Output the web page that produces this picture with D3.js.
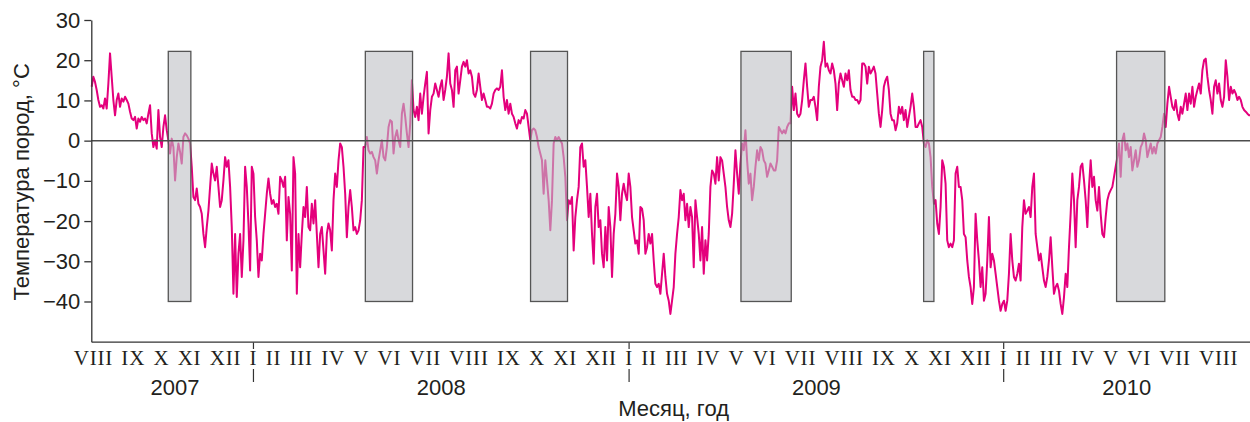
<!DOCTYPE html>
<html><head><meta charset="utf-8">
<script src="https://cdn.jsdelivr.net/npm/d3@7"></script>
<style>body{margin:0;background:#fff}svg{display:block}</style>
</head><body><svg id="chart" width="1250" height="422"></svg>
<script>
// ---- data ----
const seriesStart = "2007-07-27T09:00:00Z";
const stepHours = 39;
const temperature = [
13.4,15.9,14.6,12.6,10.1,8.4,8.8,8.0,10.5,8.0,
14.2,21.7,15.9,10.1,6.3,10.1,11.7,8.4,10.5,9.7,
10.9,10.1,9.2,7.2,5.5,5.1,5.9,3.0,5.5,4.7,
5.9,5.1,5.5,4.3,6.7,8.8,1.8,-1.6,0.1,-2.0,
7.6,0.9,-1.6,3.4,6.3,2.6,0.1,-3.2,0.5,-1.6,
-9.9,-4.1,-0.7,-2.8,-5.7,0.9,1.8,1.3,0.5,-0.7,
-6.5,-14.0,-14.8,-11.9,-15.7,-16.5,-18.2,-23.2,-26.5,-21.5,
-17.4,-11.5,-5.7,-8.2,-9.9,-6.5,-11.5,-16.5,-14.8,-9.9,
-4.1,-6.5,-4.9,-11.5,-21.5,-38.1,-23.2,-38.9,-28.1,-23.2,
-33.9,-24.8,-6.5,-11.5,-20.6,-32.3,-6.5,-8.2,-19.0,-24.8,
-33.9,-28.1,-29.8,-23.2,-18.2,-13.2,-9.4,-13.2,-15.7,-14.8,
-16.5,-15.7,-18.2,-9.0,-9.9,-11.5,-9.0,-24.8,-14.0,-18.2,
-32.3,-4.1,-8.2,-38.1,-23.2,-31.5,-23.2,-16.5,-19.0,-11.5,
-21.5,-22.3,-15.7,-20.6,-14.8,-23.2,-31.5,-23.2,-21.5,-27.3,
-33.1,-23.2,-20.6,-22.3,-27.3,-14.8,-8.2,-11.5,-4.9,-0.7,
-1.6,-6.5,-13.2,-24.0,-16.5,-12.3,-16.5,-22.3,-21.5,-23.2,
-22.3,-19.8,-14.8,-1.6,
-1.6,0.9,-2.4,-3.2,-2.8,-4.1,-4.9,-8.2,-4.9,-2.4,
0.1,-4.1,-4.9,-1.6,3.4,5.1,4.7,-3.2,0.9,2.6,
0.1,-1.6,6.7,9.2,5.9,1.8,-1.6,4.3,15.0,7.6,
5.9,8.4,5.1,11.7,6.7,10.9,14.2,17.1,1.8,7.6,
10.9,11.7,14.2,12.6,10.9,13.4,15.0,10.1,12.6,15.9,
21.7,14.2,12.6,8.4,17.5,18.4,11.7,15.0,18.4,19.6,
18.4,20.0,16.7,17.5,15.9,11.7,10.9,12.6,16.7,13.4,
10.1,11.7,10.1,8.4,8.4,8.0,9.2,11.7,12.6,13.0,
12.6,13.4,17.5,10.9,7.6,10.1,6.7,9.2,6.7,5.9,
4.3,3.0,5.1,4.3,5.9,5.5,7.6,6.7,3.4,0.1,
2.6,3.0,2.6,0.9,-1.6,-3.2,-4.9,-13.2,-4.9,-9.9,
-14.8,-22.3,-14.8,-0.7,0.9,0.1,0.9,0.1,-0.7,-4.1,
-9.0,-19.8,-14.8,-15.7,-14.0,-27.3,-19.0,-14.8,-11.5,-1.6,
-0.7,-6.5,-4.9,-11.5,-19.0,-13.2,-23.2,-30.6,-16.5,-13.2,
-21.5,-19.8,-28.1,-31.5,-21.5,-29.8,-16.5,-21.5,-33.9,-23.2,
-18.2,-8.2,-11.5,-19.8,-13.2,-10.7,-13.2,-14.8,-8.2,-11.5,
-19.0,-22.3,-25.6,-24.8,-28.1,-16.5,-16.9,
-19.8,-28.1,-26.5,-23.2,-25.6,-23.2,-29.8,-35.6,-36.4,-35.6,
-38.1,-33.1,-28.1,-33.9,-38.1,-39.8,-43.1,-39.8,-36.4,-28.1,
-23.2,-19.0,-12.3,-14.8,-13.2,-19.8,-15.7,-21.5,-16.5,-19.0,
-31.5,-14.8,-19.0,-23.2,-29.8,-21.5,-33.1,-24.8,-29.8,-23.2,
-11.5,-7.4,-8.2,-10.7,-4.1,-9.9,-4.1,-4.9,-8.2,-11.5,
-16.5,-19.8,-21.5,-18.2,-10.7,-2.4,-8.2,-13.2,-5.7,-0.7,
-2.4,2.6,-4.9,-10.7,-8.2,-14.8,-11.5,-6.5,-2.4,-4.9,
-1.6,-2.4,-4.9,-5.7,-9.0,-7.4,-5.7,-6.5,-7.4,-7.4,
-4.9,3.4,2.6,1.8,2.6,1.8,3.4,4.3,4.3,13.4,
7.6,11.7,6.7,5.9,6.7,10.1,15.0,19.2,13.4,8.4,
10.1,10.1,10.9,8.4,5.1,13.4,18.4,20.0,24.6,18.4,
19.2,17.5,16.7,19.2,17.5,14.2,7.6,14.2,16.7,15.0,
13.4,16.7,15.0,17.5,12.6,10.9,10.9,10.1,10.1,9.2,
10.1,19.2,19.2,18.4,14.2,18.4,16.7,17.5,18.4,16.7,
11.7,6.7,3.4,7.6,13.4,15.0,15.9,12.6,6.7,5.1,
5.1,2.6,4.3,8.4,6.7,8.4,5.1,7.6,3.4,5.9,
8.4,11.7,8.4,3.4,3.4,4.3,5.1,3.4,-0.7,-1.6,
0.1,-0.7,-4.1,-11.5,-15.7,-14.8,-20.6,-23.2,-16.5,-4.9,
-6.5,-10.7,-24.8,-26.5,-25.6,-26.5,-24.8,-8.2,-6.5,-11.5,
-11.5,-14.8,-23.2,-24.0,-29.8,-33.9,-36.4,-40.6,-36.4,-18.2,
-24.8,-29.8,-36.4,-31.5,-39.8,-38.1,-29.8,-19.0,-31.5,-28.1,
-29.8,-33.1,-36.4,-39.8,-42.3,-40.6,-39.8,-42.3,-39.8,-33.1,
-23.2,-29.8,-33.9,-34.8,-33.1,-30.6,-34.8,-21.5,-14.8,-18.2,
-17.4,-16.5,-19.0,-11.5,-8.2,-23.2,-26.5,-29.8,-28.1,-31.5,
-34.8,-36.4,-33.9,-29.8,-24.0,-31.5,-38.1,-36.4,-35.6,-37.3,
-40.6,-43.1,-38.9,-33.1,-36.4,-26.5,-18.2,-8.2,-14.8,-26.5,
-14.8,-11.5,-6.5,-5.7,-9.9,-14.8,-21.5,-11.5,-4.9,-11.5,
-9.0,-14.8,-17.4,-11.5,-18.2,-23.2,-24.0,-19.0,-14.8,-13.2,
-12.3,-11.5,-9.0,-6.5,-4.1,-0.7,-9.0,0.1,1.8,-2.4,
-0.7,-4.1,-1.6,-7.4,-4.9,-2.4,-6.5,-4.9,-1.6,-0.7,
1.8,0.1,-4.1,-2.4,-0.7,-3.2,-1.6,-3.2,-0.7,0.1,
0.9,3.4,6.7,3.4,9.2,13.4,10.9,8.4,7.6,10.1,
6.7,5.1,8.4,6.7,9.2,11.7,7.6,11.7,9.2,13.4,
8.4,10.9,12.6,14.2,11.7,17.5,20.0,20.4,15.9,12.6,
10.1,6.7,13.4,15.0,11.7,14.2,10.1,8.4,10.9,20.0,
15.9,10.1,13.4,11.7,12.6,11.7,10.1,10.9,10.1,8.4,
7.6,7.2,6.7,6.3,6.3
];
const shadedStarts = ["2007-10-10","2008-04-19","2008-09-27","2009-04-20","2009-10-15","2010-04-21"];
const shadedEnds   = ["2007-11-01","2008-06-04","2008-11-02","2009-06-08","2009-10-25","2010-06-07"];
const shadeTop = 22.2, shadeBottom = -40;
const yTicks = [30, 20, 10, 0, -10, -20, -30, -40];
const yDomain = [-50, 30];
const xDomain = ["2007-07-27", "2010-08-29"];
const romanMonths = ["I","II","III","IV","V","VI","VII","VIII","IX","X","XI","XII"];
const firstLabelMonth = "2007-08-01", lastLabelMonth = "2010-08-01";
const years = [2007, 2008, 2009, 2010];
const yTitle = "Температура пород, °C";
const xTitle = "Месяц, год";

// ---- chart ----
const parse = s => new Date(s + "T00:00:00Z");
const svg = d3.select("#chart");
const x = d3.scaleUtc().domain(xDomain.map(parse)).range([91.3, 1250]);
const y = d3.scaleLinear().domain(yDomain).range([341.7, 20]);
const t0 = new Date(seriesStart).getTime();
const points = temperature.map((v, i) => ({ t: new Date(t0 + i * stepHours * 3600e3), v }));
const sans = "'Liberation Sans', Arial, Helvetica, sans-serif";
const ink = "#231f20";

svg.append("path").datum(points)
  .attr("fill", "none").attr("stroke", "#e4007c").attr("stroke-width", 2)
  .attr("stroke-linejoin", "round")
  .attr("d", d3.line().x(d => x(d.t)).y(d => y(d.v)));

svg.append("g").selectAll("rect").data(d3.zip(shadedStarts, shadedEnds)).join("rect")
  .attr("x", d => x(parse(d[0])))
  .attr("width", d => x(parse(d[1])) - x(parse(d[0])))
  .attr("y", y(shadeTop)).attr("height", y(shadeBottom) - y(shadeTop))
  .attr("fill", "rgb(190,192,196)").attr("fill-opacity", 0.6)
  .attr("stroke", "#555").attr("stroke-width", 1.3);

svg.append("line")
  .attr("x1", x.range()[0]).attr("x2", x.range()[1])
  .attr("y1", y(0)).attr("y2", y(0))
  .attr("stroke", "#4d4d4d").attr("stroke-width", 1.5);

// y axis
const fmt = d => d < 0 ? "\u2212" + Math.abs(d) : String(d);
const yAxis = svg.append("g").attr("transform", `translate(${x.range()[0]},0)`)
  .call(d3.axisLeft(y).tickValues(yTicks).tickSize(7).tickSizeOuter(0).tickPadding(4).tickFormat(fmt));
yAxis.attr("font-family", sans).attr("font-size", 22);
yAxis.selectAll(".domain, .tick line").attr("stroke", "#333").attr("stroke-width", 1.3);
yAxis.selectAll(".tick text").attr("fill", ink);

// x axis (baseline only)
const xAxis = svg.append("g").attr("transform", `translate(0,${y(yDomain[0])})`)
  .call(d3.axisBottom(x).tickValues([]).tickSizeOuter(0));
xAxis.select(".domain").attr("stroke", "#333").attr("stroke-width", 1.3);

// month labels
const monthDates = d3.utcMonth.range(parse(firstLabelMonth), d3.utcMonth.offset(parse(lastLabelMonth), 1));
const mg = svg.append("g")
  .attr("font-family", "'Liberation Serif', 'Times New Roman', serif")
  .attr("font-size", 21).attr("fill", ink).attr("text-anchor", "middle")
  .attr("letter-spacing", "0.8px");
const texts = mg.selectAll("text").data(monthDates).join("text")
  .attr("y", 365).text(d => romanMonths[d.getUTCMonth()]);
const widths = texts.nodes().map(n => n.getComputedTextLength());
const n = monthDates.length;
const anchors = monthDates.map((d, i) => d.getUTCMonth() === 0 ? i : -1).filter(i => i >= 0);
const cx = new Array(n);
anchors.forEach(i => { cx[i] = x(monthDates[i]); });
const gaps = [];
for (let a = 0; a < anchors.length - 1; a++) {
  const i0 = anchors[a], i1 = anchors[a + 1];
  let inner = 0;
  for (let j = i0 + 1; j < i1; j++) inner += widths[j];
  const gap = (cx[i1] - cx[i0] - widths[i0] / 2 - widths[i1] / 2 - inner) / (i1 - i0);
  gaps.push(gap);
  let pos = cx[i0] + widths[i0] / 2;
  for (let j = i0 + 1; j < i1; j++) { pos += gap; cx[j] = pos + widths[j] / 2; pos += widths[j]; }
}
{
  let pos = cx[anchors[0]] - widths[anchors[0]] / 2;
  for (let j = anchors[0] - 1; j >= 0; j--) { pos -= gaps[0]; cx[j] = pos - widths[j] / 2; pos -= widths[j]; }
  const last = anchors[anchors.length - 1], gl = gaps[gaps.length - 1];
  pos = cx[last] + widths[last] / 2;
  for (let j = last + 1; j < n; j++) { pos += gl; cx[j] = pos + widths[j] / 2; pos += widths[j]; }
}
texts.attr("x", (d, i) => cx[i]);

// year separators
const jans = monthDates.filter(d => d.getUTCMonth() === 0);
const sep = svg.append("g").attr("stroke", "#333").attr("stroke-width", 1.2);
sep.selectAll("line.a").data(jans).join("line").attr("class", "a")
  .attr("x1", d => x(d)).attr("x2", d => x(d)).attr("y1", 342.5).attr("y2", 349);
sep.selectAll("line.b").data(jans).join("line").attr("class", "b")
  .attr("x1", d => x(d)).attr("x2", d => x(d)).attr("y1", 369).attr("y2", 382);

// year labels
const [dStart, dEnd] = x.domain();
svg.append("g").attr("font-family", sans).attr("font-size", 22).attr("fill", ink).attr("text-anchor", "middle")
  .selectAll("text").data(years).join("text")
  .attr("x", yr => {
    const s = Math.max(Date.UTC(yr, 0, 1), parse(firstLabelMonth).getTime(), dStart.getTime());
    const e = Math.min(Date.UTC(yr + 1, 0, 1), dEnd.getTime());
    return (x(new Date(s)) + x(new Date(e))) / 2;
  })
  .attr("y", 394.5).text(d => d);

// titles
svg.append("text").attr("transform", `translate(29,${(y(30) + y(-50)) / 2 + 1}) rotate(-90)`)
  .attr("text-anchor", "middle").attr("font-family", sans).attr("font-size", 22).attr("fill", ink)
  .text(yTitle);
svg.append("text").attr("x", (x.range()[0] + x.range()[1]) / 2 + 3).attr("y", 416)
  .attr("text-anchor", "middle").attr("font-family", sans).attr("font-size", 22).attr("fill", ink)
  .text(xTitle);
</script>
</body></html>
